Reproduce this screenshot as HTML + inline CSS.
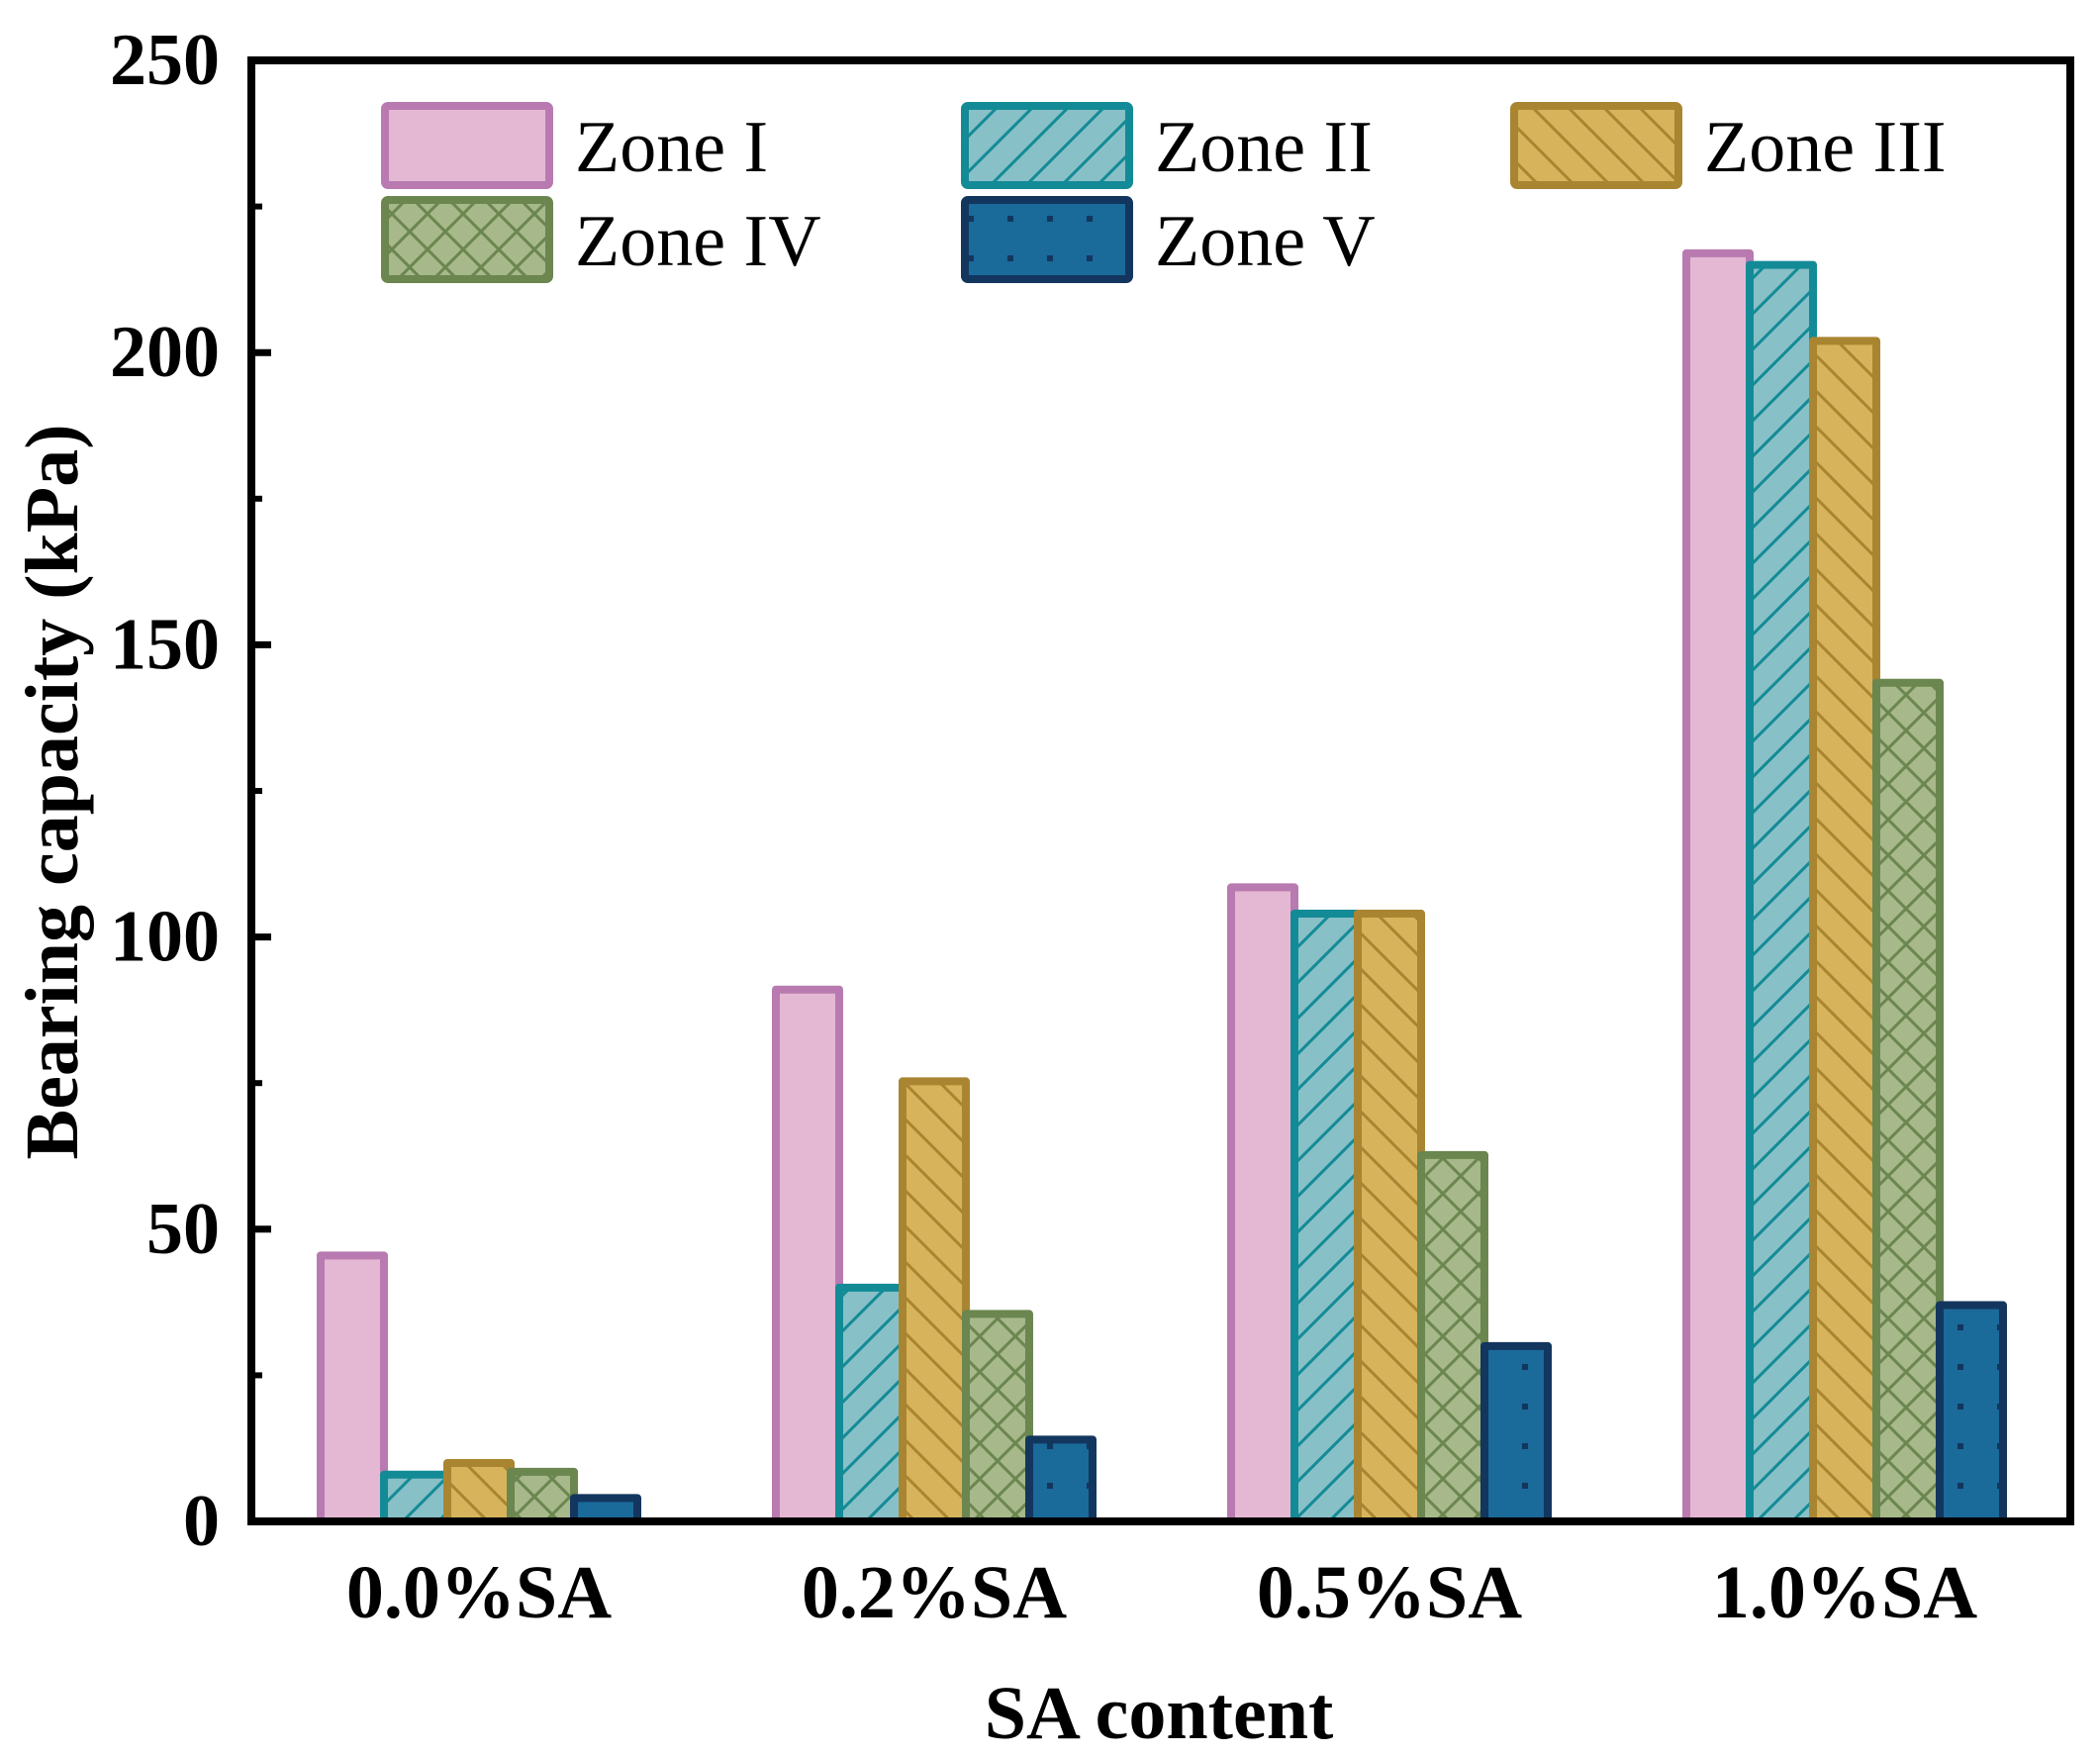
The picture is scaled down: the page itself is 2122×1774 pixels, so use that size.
<!DOCTYPE html>
<html><head><meta charset="utf-8"><style>
html,body{margin:0;padding:0;background:#fff;}
svg{display:block;font-family:"Liberation Serif",serif;}
</style></head><body>
<svg id="chart" width="2122" height="1774" viewBox="0 0 2122 1774" xmlns="http://www.w3.org/2000/svg">
<defs>
<pattern id="p2" patternUnits="userSpaceOnUse" width="36" height="36"><rect width="36" height="36" fill="#88c0c8"/><path d="M-9,9 L9,-9 M0,36 L36,0 M27,45 L45,27" stroke="#138b96" stroke-width="3"/></pattern>
<pattern id="p3" patternUnits="userSpaceOnUse" width="36" height="36"><rect width="36" height="36" fill="#d7b45c"/><path d="M-9,27 L9,45 M0,0 L36,36 M27,-9 L45,9" stroke="#a98532" stroke-width="3"/></pattern>
<pattern id="p4" patternUnits="userSpaceOnUse" width="36" height="36"><rect width="36" height="36" fill="#a7b88a"/><path d="M0,0 L36,36 M0,36 L36,0" stroke="#6b864f" stroke-width="3"/></pattern>
<pattern id="p5" patternUnits="userSpaceOnUse" width="40" height="40"><rect width="40" height="40" fill="#1a6a9a"/><rect x="18" y="18" width="6" height="6" fill="#13365e"/></pattern>
</defs>
<g id="bars"></g>
<g id="axes"></g>
<g id="legend"></g>
</svg>
<script>
const categories = ["0.0%SA","0.2%SA","0.5%SA","1.0%SA"];
const zoneNames = ["Zone I","Zone II","Zone III","Zone IV","Zone V"];
const zone1 = [45.5, 91, 108.5, 217];
const zone2 = [8, 40, 104, 215];
const zone3 = [10, 75.3, 104, 202];
const zone4 = [8.5, 35.5, 62.7, 143.5];
const zone5 = [4, 14, 30, 37];
const yTicks = [0, 50, 100, 150, 200, 250];
const yMinor = [25, 75, 125, 175, 225];

const NS = "http://www.w3.org/2000/svg";
const X0 = 254, X1 = 2092, Y0 = 1537, Ytop = 61, YMAX = 250;
function yS(v){ return Y0 - (v / YMAX) * (Y0 - Ytop); }
function xC(i){ return 484 + i * 460; }
function mk(tag, attrs, parent){ const e = document.createElementNS(NS, tag); for (const k in attrs) e.setAttribute(k, attrs[k]); parent.appendChild(e); return e; }
const series = [zone1, zone2, zone3, zone4, zone5];
const fills = ["#e4b8d3","url(#p2)","url(#p3)","url(#p4)","url(#p5)"];
const strokes = ["#b87ab0","#138b96","#a98532","#6b864f","#13365e"];
const barsG = document.getElementById("bars");
const BW = 64;
series.forEach((s, si) => {
  s.forEach((v, ci) => {
    const x = xC(ci) + (si - 2) * BW - BW / 2;
    const r = mk("rect", {x: x, y: yS(v), width: BW, height: Y0 - yS(v), fill: fills[si], stroke: strokes[si], "stroke-width": 8, "stroke-linejoin": "round"}, barsG);
    
    
  });
});
const ax = document.getElementById("axes");
const frame = mk("rect", {x: X0, y: Ytop, width: X1 - X0, height: Y0 - Ytop, fill: "none", stroke: "#000", "stroke-width": 8}, ax);


yTicks.forEach(t => {
  const l = mk("line", {x1: X0, x2: X0 + 20, y1: yS(t), y2: yS(t), stroke: "#000", "stroke-width": 7}, ax);
  
  
  const tx = mk("text", {x: 222, y: yS(t) + 24, "text-anchor": "end", "font-size": 74, "font-weight": "bold"}, ax);
  tx.textContent = t;
  
  
});
yMinor.forEach(t => {
  const l = mk("line", {x1: X0, x2: X0 + 11, y1: yS(t), y2: yS(t), stroke: "#000", "stroke-width": 6}, ax);
  
  
});
categories.forEach((c, i) => {
  const tx = mk("text", {x: xC(i), y: 1634, "text-anchor": "middle", "font-size": 76, "font-weight": "bold"}, ax);
  tx.textContent = c;
  
  
});
const xt = mk("text", {x: 1171, y: 1756, "text-anchor": "middle", "font-size": 76, "font-weight": "bold"}, ax);
xt.textContent = "SA content";


const yt = mk("text", {x: 0, y: 0, transform: "translate(78,800) rotate(-90)", "text-anchor": "middle", "font-size": 76, "font-weight": "bold"}, ax);
yt.textContent = "Bearing capacity (kPa)";


const lg = document.getElementById("legend");
const lpos = [[389,107],[975,107],[1530,107],[389,202],[975,202]];
zoneNames.forEach((n, i) => {
  const [x, y] = lpos[i];
  const r = mk("rect", {x: x, y: y, width: 166, height: 80, fill: fills[i], stroke: strokes[i], "stroke-width": 8, rx: 3}, lg);
  
  
  const t = mk("text", {x: x + 192, y: y + 66, "font-size": 74}, lg);
  t.textContent = n;
  
  
});
</script>
</body></html>
